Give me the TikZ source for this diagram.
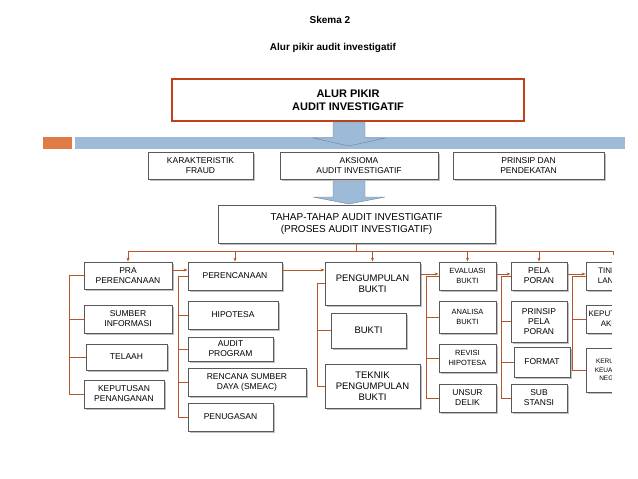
\documentclass[tikz,border=0pt]{standalone}
\usepackage{fontspec}
\setmainfont{Liberation Sans}
\usetikzlibrary{shadows,arrows.meta}
\definecolor{brn}{HTML}{B5552B}
\definecolor{redb}{HTML}{C0401A}
\definecolor{blu}{HTML}{9DBBD8}
\definecolor{org}{HTML}{E07B45}
\begin{document}
\begin{tikzpicture}[x=1pt,y=-1pt,
 box/.style={draw=gray!70!black,fill=white,line width=0.8pt,align=center,inner sep=1pt,font=\fontsize{8.5}{10}\selectfont,
   drop shadow={shadow xshift=1.5pt,shadow yshift=-1.5pt,opacity=0.5}},
 br/.style={draw=brn,line width=0.7pt},
 arr/.style={br,-{Stealth[length=4pt,width=3pt]}},
 bigarrow/.style={fill=blu,draw=blu!70!black,line width=0.4pt}]
\useasboundingbox (0,0) rectangle (638,479);
\node[font=\bfseries\fontsize{10}{11}\selectfont] (t1) at (330,20) {Skema 2};
\node[font=\bfseries\fontsize{10}{11}\selectfont] (t2) at (333,48) {Alur pikir audit investigatif};
\fill[org] (43,137) rectangle (72,149);
\fill[blu] (75,137) rectangle (625,149);
\node[draw=redb,line width=2pt,fill=white,minimum width=352,minimum height=42,align=center,font=\bfseries\fontsize{11}{13}\selectfont] (main) at (348,100) {ALUR PIKIR\\AUDIT INVESTIGATIF};
\draw[bigarrow] (333,122) -- (365,122) -- (365,138) -- (385,138) -- (349,146) -- (313,138) -- (333,138) -- cycle;
\node[box,minimum width=105,minimum height=27] (kar) at (200.5,165.5) {KARAKTERISTIK\\FRAUD};
\node[box,minimum width=158,minimum height=27] (aks) at (359,165.5) {AKSIOMA\\AUDIT INVESTIGATIF};
\node[box,minimum width=151,minimum height=27] (pri) at (528.5,165.5) {PRINSIP DAN\\PENDEKATAN};
\draw[bigarrow] (333,181) -- (365,181) -- (365,197) -- (385,197) -- (349,204) -- (313,197) -- (333,197) -- cycle;
\node[box,minimum width=277,minimum height=38,font=\fontsize{10}{12}\selectfont] (tah) at (356.5,224) {TAHAP-TAHAP AUDIT INVESTIGATIF\\(PROSES AUDIT INVESTIGATIF)};
% columns
\node[box,minimum width=88,minimum height=27] (pra) at (128,275.5) {PRA\\PERENCANAAN};
\node[box,minimum width=88,minimum height=28] (sum) at (128,319) {SUMBER\\INFORMASI};
\node[box,minimum width=81,minimum height=26] (tel) at (126.5,357) {TELAAH};
\node[box,minimum width=80,minimum height=28] (kep) at (124,394) {KEPUTUSAN\\PENANGANAN};
\node[box,minimum width=94,minimum height=28] (per) at (235,276) {PERENCANAAN};
\node[box,minimum width=90,minimum height=28] (hip) at (233,315) {HIPOTESA};
\node[box,minimum width=85,minimum height=24] (aud) at (230.5,349) {AUDIT\\PROGRAM};
\node[box,minimum width=118,minimum height=28] (ren) at (247,382) {RENCANA SUMBER\\DAYA (SMEAC)};
\node[box,minimum width=85,minimum height=28] (pen) at (230.5,417) {PENUGASAN};
\node[box,minimum width=95,minimum height=43,font=\fontsize{9.5}{11}\selectfont] (pgb) at (372.5,283.5) {PENGUMPULAN\\BUKTI};
\node[box,minimum width=75,minimum height=35,font=\fontsize{9.5}{11}\selectfont] (buk) at (368.5,330.5) {BUKTI};
\node[box,minimum width=95,minimum height=44,font=\fontsize{9.5}{11}\selectfont] (tek) at (372.5,386) {TEKNIK\\PENGUMPULAN\\BUKTI};
\node[box,minimum width=57,minimum height=28,font=\fontsize{7.5}{10}\selectfont] (eva) at (467.5,276) {EVALUASI\\BUKTI};
\node[box,minimum width=57,minimum height=32,font=\fontsize{7.5}{10}\selectfont] (ana) at (467.5,317) {ANALISA\\BUKTI};
\node[box,minimum width=57,minimum height=28,font=\fontsize{7.5}{10}\selectfont] (rev) at (467.5,358) {REVISI\\HIPOTESA};
\node[box,minimum width=57,minimum height=28] (uns) at (467.5,398) {UNSUR\\DELIK};
\node[box,minimum width=56,minimum height=28] (pel) at (539,276) {PELA\\PORAN};
\node[box,minimum width=56,minimum height=41] (pps) at (539,321.5) {PRINSIP\\PELA\\PORAN};
\node[box,minimum width=56,minimum height=30] (for) at (542,362) {FORMAT};
\node[box,minimum width=56,minimum height=28] (sub) at (539,398) {SUB\\STANSI};
\node[box,minimum width=54,minimum height=28,font=\fontsize{8}{10}\selectfont] (tin) at (613,276) {TINDAK\\LANJUT};
\node[box,minimum width=54,minimum height=28,font=\fontsize{8}{10}\selectfont] (ke) at (613,319) {KEPUTUSAN\\AKHIR};
\node[box,minimum width=54,minimum height=44,font=\fontsize{6.5}{8.5}\selectfont] (ker) at (613,370) {KERUGIAN\\KEUANGAN\\NEGARA};
% bus
\draw[br] (tah.south) -- (tah.south |- 0,251);
\draw[br] (pra.north |- 0,251) -- (tin.north |- 0,251);
\foreach \n in {pra,per,pgb,eva,pel,tin} \draw[arr] (\n.north |- 0,251) -- (\n.north);
% sequence arrows
\draw[arr] (pra.east |- 0,270) -- (per.west |- 0,270);
\draw[arr] (per.east |- 0,270) -- (pgb.west |- 0,270);
\draw[arr] (pgb.east |- 0,274) -- (eva.west |- 0,274);
\draw[arr] (eva.east |- 0,274) -- (pel.west |- 0,274);
\draw[arr] (pel.east |- 0,274) -- (tin.west |- 0,274);
% brackets
\draw[br] (pra.west) -- (69,0 |- pra.west) -- (69,0 |- kep.west) -- (kep.west);
\foreach \n in {sum,tel} \draw[br] (69,0 |- \n.west) -- (\n.west);
\draw[br] (per.west) -- (178,0 |- per.west) -- (178,0 |- pen.west) -- (pen.west);
\foreach \n in {hip,aud,ren} \draw[br] (178,0 |- \n.west) -- (\n.west);
\draw[br] (pgb.west) -- (317,0 |- pgb.west) -- (317,0 |- tek.west) -- (tek.west);
\draw[br] (317,0 |- buk.west) -- (buk.west);
\draw[br] (eva.west) -- (426,0 |- eva.west) -- (426,0 |- uns.west) -- (uns.west);
\foreach \n in {ana,rev} \draw[br] (426,0 |- \n.west) -- (\n.west);
\draw[br] (pel.west) -- (501,0 |- pel.west) -- (501,0 |- sub.west) -- (sub.west);
\foreach \n in {pps,for} \draw[br] (501,0 |- \n.west) -- (\n.west);
\draw[br] (tin.west) -- (572,0 |- tin.west) -- (572,0 |- ker.west) -- (ker.west);
\draw[br] (572,0 |- ke.west) -- (ke.west);
\fill[white] (612,255) rectangle (638,440);
\end{tikzpicture}
\end{document}
